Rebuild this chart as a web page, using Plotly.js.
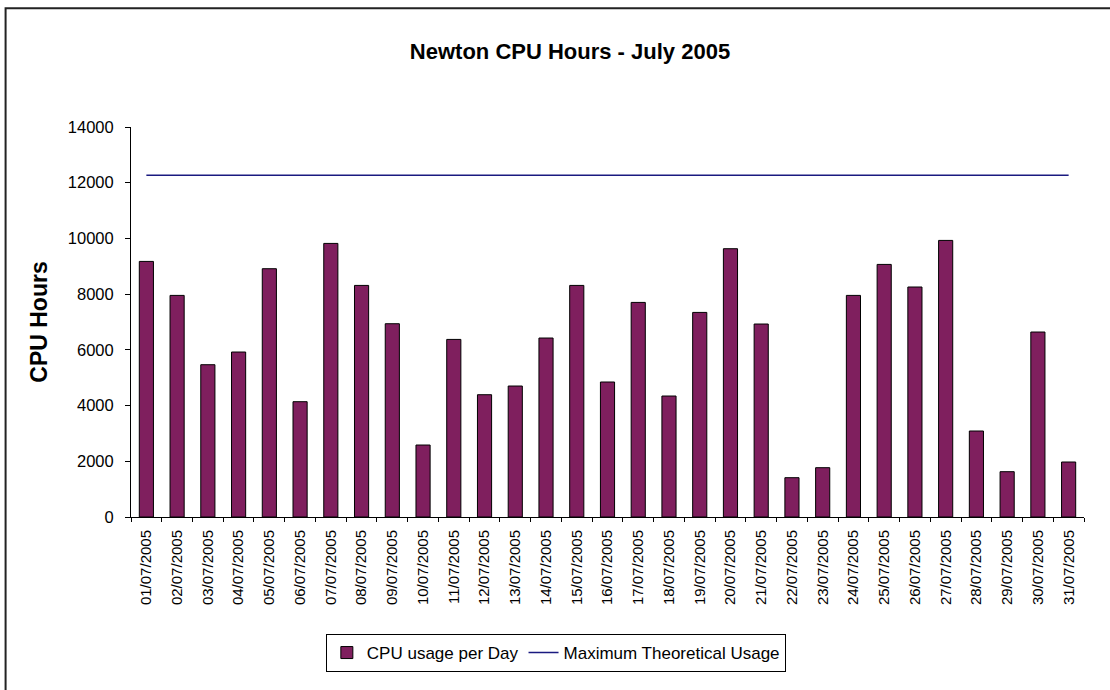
<!DOCTYPE html>
<html>
<head>
<meta charset="utf-8">
<script src="https://cdn.plot.ly/plotly-3.0.1.min.js"></script>
<style>
  html, body { margin: 0; padding: 0; background: #ffffff; }
  #chart { width: 1110px; height: 690px; }
</style>
</head>
<body>
<div id="chart"></div>
<script>
// Daily CPU hours on Newton for July 2005
const days = [
  "01/07/2005", "02/07/2005", "03/07/2005", "04/07/2005", "05/07/2005",
  "06/07/2005", "07/07/2005", "08/07/2005", "09/07/2005", "10/07/2005",
  "11/07/2005", "12/07/2005", "13/07/2005", "14/07/2005", "15/07/2005",
  "16/07/2005", "17/07/2005", "18/07/2005", "19/07/2005", "20/07/2005",
  "21/07/2005", "22/07/2005", "23/07/2005", "24/07/2005", "25/07/2005",
  "26/07/2005", "27/07/2005", "28/07/2005", "29/07/2005", "30/07/2005",
  "31/07/2005"
];

const cpuUsage = [
  9175, 7955, 5467, 5922, 8913, 4139, 9821, 8313, 6938, 2584,
  6375, 4390, 4702, 6425, 8313, 4846, 7703, 4343, 7344, 9631,
  6927, 1411, 1770, 7955, 9067, 8256, 9929, 3087, 1626, 6640,
  1974
];

const maxTheoretical = [
  12264, 12264, 12264, 12264, 12264, 12264, 12264, 12264, 12264, 12264,
  12264, 12264, 12264, 12264, 12264, 12264, 12264, 12264, 12264, 12264,
  12264, 12264, 12264, 12264, 12264, 12264, 12264, 12264, 12264, 12264,
  12264
];

const yTicks = [0, 2000, 4000, 6000, 8000, 10000, 12000, 14000];

const FONT = "Liberation Sans, Arial, Helvetica, sans-serif";

const traces = [
  {
    type: "bar",
    name: "CPU usage per Day",
    x: days,
    y: cpuUsage,
    marker: { color: "#7f1f5e", line: { color: "#000000", width: 1 } },
    hoverinfo: "x+y"
  },
  {
    type: "scatter",
    mode: "lines",
    name: "Maximum Theoretical Usage",
    x: days,
    y: maxTheoretical,
    line: { color: "#1a1a80", width: 1.5 },
    hoverinfo: "x+y"
  }
];

const layout = {
  width: 1110,
  height: 690,
  paper_bgcolor: "#ffffff",
  plot_bgcolor: "#ffffff",
  margin: { l: 131, r: 26, t: 127, b: 173 },
  font: { family: FONT, color: "#000000" },
  bargap: 0.54,
  showlegend: true,
  title: {
    text: "Newton CPU Hours - July 2005",
    font: { family: FONT, size: 22, weight: "bold", color: "#000000" },
    xref: "container",
    yref: "container",
    x: 0.5135,
    y: 0.925,
    xanchor: "center",
    yanchor: "middle"
  },
  xaxis: {
    type: "category",
    categoryorder: "array",
    categoryarray: days,
    range: [-0.5, 30.5],
    tickson: "boundaries",
    ticks: "outside",
    ticklen: 4,
    tickwidth: 1,
    tickcolor: "#000000",
    tickangle: -90,
    ticklabelstandoff: 6,
    tickfont: { family: FONT, size: 15, color: "#000000" },
    showline: true,
    linecolor: "#000000",
    linewidth: 1,
    showgrid: false,
    zeroline: false,
    fixedrange: true
  },
  yaxis: {
    range: [0, 14000],
    tickvals: yTicks,
    ticktext: yTicks.map(String),
    ticks: "outside",
    ticklen: 5,
    tickwidth: 1,
    tickcolor: "#000000",
    ticklabelstandoff: 8,
    tickfont: { family: FONT, size: 16.5, color: "#000000" },
    showline: true,
    linecolor: "#000000",
    linewidth: 1,
    showgrid: false,
    zeroline: false,
    fixedrange: true,
    title: {
      text: "CPU Hours",
      font: { family: FONT, size: 23, weight: "bold", color: "#000000" },
      standoff: 13
    }
  },
  // companion axes that give the ticks their inner half, so they cross the axis lines
  xaxis2: {
    overlaying: "x",
    anchor: "y",
    side: "bottom",
    type: "linear",
    range: [-0.5, 30.5],
    tick0: -0.5,
    dtick: 1,
    ticks: "inside",
    ticklen: 4,
    tickwidth: 1,
    tickcolor: "#000000",
    showticklabels: false,
    showgrid: false,
    zeroline: false,
    showline: false,
    fixedrange: true
  },
  yaxis2: {
    overlaying: "y",
    anchor: "x",
    side: "left",
    range: [0, 14000],
    tickvals: yTicks,
    ticks: "inside",
    ticklen: 5,
    tickwidth: 1,
    tickcolor: "#000000",
    showticklabels: false,
    showgrid: false,
    zeroline: false,
    showline: false,
    fixedrange: true
  },
  legend: {
    orientation: "h",
    x: 0.4458,
    xanchor: "center",
    y: -0.3,
    yanchor: "top",
    bgcolor: "#ffffff",
    bordercolor: "#000000",
    borderwidth: 1,
    font: { family: FONT, size: 17, color: "#000000" },
    itemclick: false,
    itemdoubleclick: false
  },
  shapes: [
    {
      type: "rect",
      xref: "paper",
      yref: "paper",
      x0: -0.1316,
      x1: 1.3,
      y0: -0.6,
      y1: 1.3046,
      line: { color: "#222222", width: 2 },
      fillcolor: "rgba(0,0,0,0)",
      layer: "below"
    }
  ]
};

Plotly.newPlot("chart", traces, layout, { displayModeBar: false, staticPlot: true });
</script>
</body>
</html>
